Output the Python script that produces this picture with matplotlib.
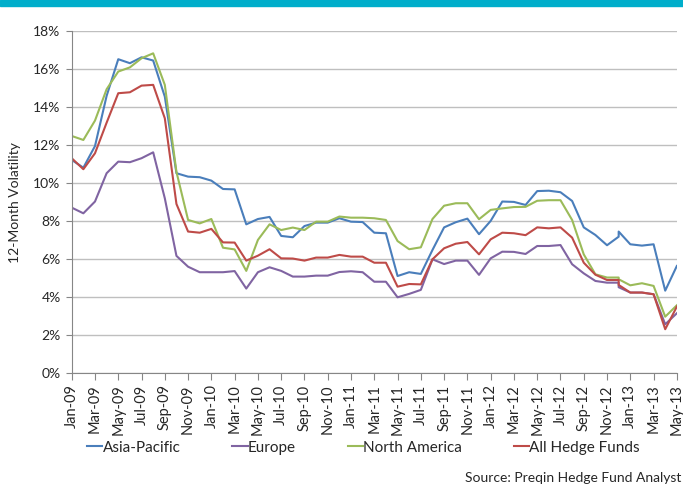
import matplotlib.pyplot as plt
import matplotlib.ticker as mticker
import pandas as pd

plt.rcParams['font.family'] = ['Lato', 'DejaVu Sans']

# monthly observations, Dec-12 reported twice
months = pd.period_range('2009-01', '2013-05', freq='M')
obs = list(months[:48]) + [months[47]] + list(months[48:])

asia_pacific = [11.23, 10.82, 11.96, 14.6, 16.53, 16.32, 16.63, 16.46, 14.56, 10.53, 10.35, 10.32,
                10.14, 9.70, 9.68, 7.84, 8.12, 8.23, 7.23, 7.16, 7.75, 7.93, 7.93, 8.16,
                7.98, 7.96, 7.40, 7.37, 5.12, 5.32, 5.23, 6.49, 7.68, 7.95, 8.14, 7.32,
                8.02, 9.04, 9.02, 8.86, 9.59, 9.61, 9.53, 9.07, 7.68, 7.28, 6.74, 7.19, 7.46,
                6.79, 6.72, 6.79, 4.35, 5.65]
europe = [8.72, 8.42, 9.04, 10.53, 11.14, 11.11, 11.32, 11.63, 9.21, 6.18, 5.61, 5.32,
          5.32, 5.32, 5.38, 4.46, 5.32, 5.58, 5.39, 5.09, 5.09, 5.14, 5.14, 5.33,
          5.37, 5.32, 4.82, 4.82, 4.0, 4.18, 4.39, 6.0, 5.75, 5.93, 5.93, 5.18,
          6.05, 6.40, 6.39, 6.28, 6.70, 6.70, 6.75, 5.74, 5.26, 4.86, 4.77, 4.77, 4.53,
          4.25, 4.25, 4.16, 2.58, 3.16]
north_america = [12.49, 12.28, 13.30, 14.95, 15.88, 16.1, 16.58, 16.84, 15.18, 10.6, 8.07, 7.89,
                 8.12, 6.61, 6.52, 5.39, 7.02, 7.84, 7.54, 7.67, 7.54, 7.98, 7.98, 8.25,
                 8.19, 8.19, 8.16, 8.07, 6.96, 6.53, 6.63, 8.12, 8.82, 8.95, 8.95, 8.11,
                 8.60, 8.68, 8.75, 8.76, 9.08, 9.11, 9.11, 8.07, 6.26, 5.21, 5.04, 5.04, 4.95,
                 4.63, 4.74, 4.60, 2.98, 3.58]
all_funds = [11.32, 10.74, 11.58, 13.19, 14.74, 14.79, 15.14, 15.18, 13.42, 8.91, 7.46, 7.40,
             7.60, 6.89, 6.88, 5.93, 6.19, 6.53, 6.05, 6.04, 5.93, 6.09, 6.09, 6.23,
             6.14, 6.14, 5.82, 5.82, 4.56, 4.70, 4.68, 6.0, 6.58, 6.82, 6.91, 6.26,
             7.05, 7.40, 7.37, 7.27, 7.68, 7.63, 7.68, 7.14, 5.82, 5.19, 4.91, 4.91, 4.65,
             4.25, 4.25, 4.16, 2.32, 3.51]

series = [('Asia-Pacific', asia_pacific, '#4A7EBB'),
          ('Europe', europe, '#8064A2'),
          ('North America', north_america, '#9BBB59'),
          ('All Hedge Funds', all_funds, '#BE4B48')]

x = [(p - months[0]).n for p in obs]

fig = plt.figure(figsize=(6.83, 4.91), dpi=100)
fig.patches.append(plt.Rectangle((0, 1 - 6 / 491), 1, 6 / 491, transform=fig.transFigure,
                                 color='#00AECB', zorder=0))
ax = fig.add_axes([0.105, 0.2397, 0.886, 0.6966])

for name, vals, color in series:
    ax.plot(x, vals, color=color, lw=1.5, label=name)

ax.set_xlim(0, len(months) - 1)
ax.set_ylim(0, 18)
ax.yaxis.set_major_locator(mticker.MultipleLocator(2))
ax.yaxis.set_major_formatter(mticker.FuncFormatter(lambda v, p: f'{v:.0f}%'))
ax.set_xticks(range(0, len(months), 2))
ax.set_xticklabels([p.strftime('%b-%y') for p in months[::2]], rotation=90)
ax.tick_params(axis='x', length=5, color='#868686', labelsize=10.5, pad=3, labelcolor='#262626')
ax.tick_params(axis='y', length=4, color='#868686', labelsize=10, pad=4, labelcolor='#262626')
ax.grid(axis='y', color='#BFBFBF', lw=1)
ax.set_axisbelow(True)
for s in ['top', 'right']:
    ax.spines[s].set_visible(False)
for s in ['left', 'bottom']:
    ax.spines[s].set_color('#868686')
ax.set_ylabel('12-Month Volatility', fontsize=10, color='#262626', labelpad=9)

fig.legend(loc='center', bbox_to_anchor=(0.532, 0.088), ncol=4, frameon=False,
           handlelength=1.0, handletextpad=0.0, columnspacing=3.4, fontsize=11,
           labelcolor='#262626')
fig.text(0.997, 0.026, 'Source: Preqin Hedge Fund Analyst', ha='right', va='center',
         fontsize=10, color='#262626')

fig.savefig('out.png', dpi=100)
